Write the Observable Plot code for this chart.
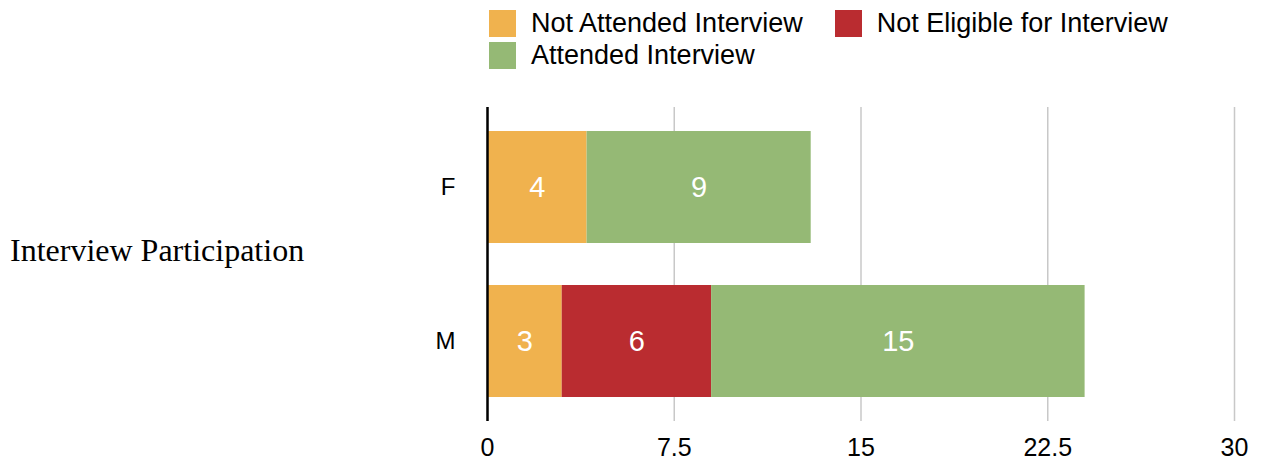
<!DOCTYPE html>
<html>
<head>
<meta charset="utf-8">
<script src="https://cdn.jsdelivr.net/npm/d3@7"></script>
<script src="https://cdn.jsdelivr.net/npm/@observablehq/plot@0.6"></script>
<style>
  html, body { margin: 0; padding: 0; background: #fff; width: 1267px; height: 463px; overflow: hidden; position: relative; }
  #legend { position: absolute; left: 489px; top: 10px; width: 720px; display: flex; flex-wrap: wrap; column-gap: 32px; row-gap: 5px;
    font-family: "Liberation Sans", Arial, sans-serif; font-size: 27px; color: #000; }
  .item { display: flex; align-items: center; gap: 15px; height: 27px; line-height: 27px; white-space: nowrap; }
  .sw { width: 27px; height: 27px; }
  #ylab { position: absolute; left: 10px; top: 234px; font-family: "Liberation Serif", "Times New Roman", serif; font-size: 32px; line-height: 32px; color: #000; white-space: nowrap; }
  #chart { position: absolute; left: 0; top: 80px; }
</style>
</head>
<body>
<div id="legend"></div>
<div id="ylab">Interview Participation</div>
<div id="chart"></div>
<script>
const categories = ["F", "M"];
const series = ["Not Attended Interview", "Not Eligible for Interview", "Attended Interview"];
const notAttended = [4, 3];
const notEligible = [0, 6];
const attended = [9, 15];
const xTicks = [0, 7.5, 15, 22.5, 30];
const colors = ["#F0B24E", "#BA2C30", "#95B975"];
const legendOrder = ["Not Attended Interview", "Not Eligible for Interview", "Attended Interview"];

const seriesValues = [notAttended, notEligible, attended];
const data = [];
categories.forEach((c, i) => {
  series.forEach((s, j) => {
    data.push({category: c, series: s, value: seriesValues[j][i]});
  });
});

const legend = document.getElementById("legend");
legendOrder.forEach(s => {
  const it = document.createElement("div");
  it.className = "item";
  const sw = document.createElement("div");
  sw.className = "sw";
  sw.style.background = colors[series.indexOf(s)];
  const tx = document.createElement("span");
  tx.textContent = s;
  it.appendChild(sw);
  it.appendChild(tx);
  legend.appendChild(it);
});

const chart = Plot.plot({
  width: 1267,
  height: 383,
  marginLeft: 487,
  marginRight: 33,
  marginTop: 27,
  marginBottom: 42,
  style: {fontFamily: "'Liberation Sans', Arial, sans-serif", fontSize: "25px", color: "#000", background: "transparent"},
  x: {domain: [0, 30], label: null},
  y: {domain: categories, paddingInner: 0.27, paddingOuter: 0.148, label: null},
  color: {domain: series, range: colors},
  marks: [
    Plot.gridX(xTicks, {stroke: "#c8c8c8", strokeOpacity: 1, strokeWidth: 1.5}),
    Plot.barX(data, Plot.stackX({x: "value", y: "category", fill: "series", order: series})),
    Plot.text(data, Plot.stackX({x: "value", y: "category", z: "series", order: series,
      text: d => d.value > 0 ? String(d.value) : null, fill: "white", fontSize: 29})),
    Plot.ruleX([0], {stroke: "black", strokeWidth: 2.5}),
    Plot.axisX({ticks: xTicks, tickSize: 0, tickPadding: 17, fontSize: 25, label: null, tickFormat: d => String(d)}),
    Plot.axisY({tickSize: 0, tickPadding: 32, fontSize: 24, label: null})
  ]
});
document.getElementById("chart").appendChild(chart);
</script>
</body>
</html>
